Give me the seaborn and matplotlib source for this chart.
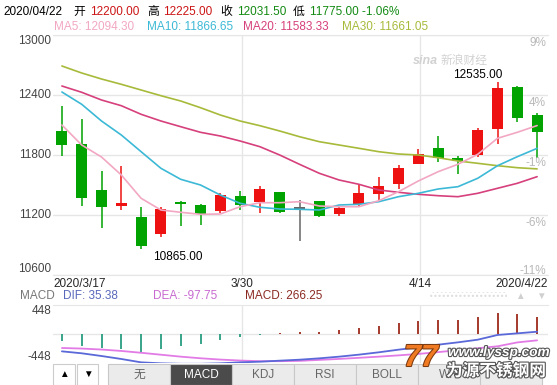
import matplotlib
matplotlib.use("Agg")
import matplotlib.pyplot as plt
import matplotlib.transforms as mtransforms
import matplotlib.patheffects as pe
from matplotlib.patches import Rectangle
import pandas as pd
import seaborn as sns

# Daily K-line, 2020/3/17 .. 2020/4/22 (25 trading days)
opens = [12040, 11910, 11450, 11293, 11183, 11013, 11333, 11300, 11240, 11390,
         11327, 11430, 11270, 11340, 11213, 11313, 11407, 11513, 11710, 11873,
         11770, 11797, 12057, 12477, 12200]
highs = [12290, 12160, 11640, 11693, 11277, 11283, 11340, 11310, 11417, 11443,
         11490, 11433, 11347, 11343, 11293, 11510, 11583, 11697, 11857, 11993,
         11790, 12067, 12535, 12493, 12225]
lows = [11793, 11293, 11073, 11253, 10865, 10983, 11090, 11100, 11217, 11250,
        11223, 11223, 10940, 11183, 11187, 11283, 11327, 11460, 11707, 11727,
        11610, 11777, 11913, 12127, 11775]
closes = [11900, 11373, 11283, 11323, 10893, 11260, 11307, 11207, 11400, 11300,
          11460, 11227, 11270, 11193, 11270, 11420, 11490, 11670, 11810, 11767,
          11743, 12050, 12467, 12167, 12031.5]

# moving averages
ma5 = [12100, 11900, 11780, 11600, 11367, 11250, 11227, 11207, 11210, 11283,
       11323, 11323, 11333, 11290, 11283, 11283, 11343, 11433, 11540, 11633,
       11707, 11807, 11967, 12027, 12094.30]
ma10 = [12430, 12307, 12140, 12000, 11833, 11667, 11557, 11500, 11400, 11317,
        11277, 11260, 11257, 11250, 11300, 11307, 11333, 11383, 11417, 11460,
        11483, 11567, 11693, 11783, 11866.65]
ma20 = [12490, 12427, 12350, 12293, 12207, 12140, 12083, 12027, 11990, 11940,
        11883, 11800, 11707, 11617, 11550, 11507, 11450, 11427, 11407, 11393,
        11383, 11417, 11467, 11517, 11583.33]
ma30 = [12690, 12620, 12560, 12507, 12450, 12393, 12340, 12273, 12200, 12140,
        12093, 12040, 11983, 11933, 11900, 11867, 11833, 11810, 11800, 11773,
        11740, 11717, 11693, 11673, 11661.05]

# MACD panel
macd_hist = [-103, -181, -221, -236, -283, -236, -190, -155, -93, -42,
             -8, 15, 36, 36, 57, 93, 128, 170, 205, 221,
             221, 258, 324, 309, 266.25]
dif = [-268, -298, -340, -386, -438, -453, -460, -460, -453, -438,
       -428, -412, -397, -376, -350, -319, -283, -242, -206, -165,
       -129, -88, -15, 10, 35.38]
dea = [-216, -225, -240, -262, -290, -320, -350, -375, -395, -410,
       -420, -420, -415, -400, -385, -368, -350, -330, -308, -280,
       -250, -220, -190, -130, -97.75]

price_ticks = [13000, 12400, 11800, 11200, 10600]
pct_labels = ['9%', '4%', '-1%', '-6%', '-11%']
date_labels = {0: '2020/3/17', 9: '3/30', 18: '4/14', 24: '2020/4/22'}
tabs = ['无', 'MACD', 'KDJ', 'RSI', 'BOLL', 'WR', 'DMI']

df = pd.DataFrame({'day': range(len(closes)), 'open': opens, 'high': highs,
                   'low': lows, 'close': closes, 'ma5': ma5, 'ma10': ma10,
                   'ma20': ma20, 'ma30': ma30, 'dif': dif, 'dea': dea,
                   'hist': macd_hist})

sns.set_style('white')
plt.rcParams['font.family'] = ['Liberation Sans', 'Noto Sans CJK SC', 'DejaVu Sans']
FS = 8.5
RED, GREEN, GRID = '#ee1111', '#00a300', '#e6e6e6'
MA_COLORS = {'ma5': '#f2a7c3', 'ma10': '#3cb9d6', 'ma20': '#d6407c', 'ma30': '#a8ba3a'}

W, H = 557, 385
fig = plt.figure(figsize=(W / 100, H / 100), dpi=100)


def ptext(x, y, s, **kw):
    kw.setdefault('fontsize', FS)
    kw.setdefault('va', 'center')
    fig.text(x / W, 1 - y / H, s, **kw)


# ---- header lines
ptext(3, 12, '2020/04/22', color='black')
ptext(73, 12, '开', color='black')
ptext(90, 12, '12200.00', color='#cc1414')
ptext(147, 12, '高', color='black')
ptext(163, 12, '12225.00', color='#cc1414')
ptext(220, 12, '收', color='black')
ptext(237, 12, '12031.50', color='#128a12')
ptext(293, 12, '低', color='black')
ptext(310, 12, '11775.00 -1.06%', color='#128a12')

ptext(54, 27, 'MA5: 12094.30', color=MA_COLORS['ma5'])
ptext(147, 27, 'MA10: 11866.65', color=MA_COLORS['ma10'])
ptext(243, 27, 'MA20: 11583.33', color=MA_COLORS['ma20'])
ptext(342, 27, 'MA30: 11661.05', color=MA_COLORS['ma30'])

# ---- main K-line panel
ax = fig.add_axes([53 / W, 1 - 275 / H, 495 / W, 240 / H])
ax.set_xlim(-0.45, len(closes) - 0.45)
ax.set_ylim(10600, 13000)
ax.set_yticks(price_ticks)
ax.set_xticks([9.1, 18.1])
ax.grid(True, color=GRID, lw=1)
ax.tick_params(length=0, labelleft=False, labelbottom=False)
for s in ['left', 'right']:
    ax.spines[s].set_visible(False)
for s in ['top', 'bottom']:
    ax.spines[s].set_color(GRID)

colors = [RED if c > o else (GREEN if c < o else '#666666') for o, c in zip(opens, closes)]
ax.vlines(df['day'], df['low'], df['high'], colors=colors, lw=1.1, zorder=2)
body = [max(abs(c - o), 20) for o, c in zip(opens, closes)]
bottom = [min(o, c) if c != o else o - 10 for o, c in zip(opens, closes)]
ax.bar(df['day'], body, bottom=bottom, width=0.55, color=colors, zorder=2, linewidth=0)

for col in ['ma30', 'ma20', 'ma10', 'ma5']:
    sns.lineplot(data=df, x='day', y=col, ax=ax, color=MA_COLORS[col], lw=1.2, zorder=3)
ax.set_xlabel('')
ax.set_ylabel('')

ylab = mtransforms.blended_transform_factory(ax.transAxes, ax.transData)
for i, (v, p) in enumerate(zip(price_ticks, pct_labels)):
    va = 'bottom' if i == len(price_ticks) - 1 else ('top' if i == 0 else 'center')
    ax.text(-0.004, v, str(v), transform=ylab, ha='right', va=va, fontsize=FS,
            color='#444444')
    pva = 'bottom' if i == len(price_ticks) - 1 else 'top'
    ax.text(0.996, v - 15, p, transform=ylab, ha='right', va=pva, fontsize=FS,
            color='#b8b8b8')

xlab = mtransforms.blended_transform_factory(ax.transData, ax.transAxes)
for d, s in date_labels.items():
    if d == 0:
        ax.text(-0.45, -0.036, s, transform=xlab, ha='left', va='center', fontsize=FS)
    elif d == len(closes) - 1:
        ax.text(len(closes) - 0.45, -0.036, s, transform=xlab, ha='right', va='center', fontsize=FS)
    else:
        ax.text(d + 0.1, -0.036, s, transform=xlab, ha='center', va='center', fontsize=FS)

hi = df['high'].idxmax()
lo = df['low'].idxmin()
ax.text(hi + 0.25, highs[hi] + 65, f'{highs[hi]:.2f}', ha='right', va='center', fontsize=FS, color='black')
ax.text(lo + 0.6, lows[lo] - 82, f'{lows[lo]:.2f}', ha='left', va='center', fontsize=FS, color='black')

# sina watermark
ptext(413, 61, 'sina', color='#d2d2d2', fontsize=9, fontweight='bold', style='italic')
ptext(441, 61, '新浪财经', color='#d2d2d2', fontsize=8.5)

# ---- MACD panel
ptext(20, 296, 'MACD', color='#777777')
ptext(63, 296, 'DIF: 35.38', color='#5a68bb')
ptext(153, 296, 'DEA: -97.75', color='#c86ad0')
ptext(245, 296, 'MACD: 266.25', color='#8b2a22')
fig.add_artist(Rectangle((430 / W, 1 - 299 / H), 77 / W, 7 / H, transform=fig.transFigure,
                         facecolor='none', edgecolor='#dcdcdc', hatch='....', lw=0))
ptext(520, 296, '▲', color='#d0d0d0', fontsize=7, ha='center')
ptext(541, 296, '▼', color='#d0d0d0', fontsize=7, ha='center')

ax2 = fig.add_axes([53 / W, 1 - 363 / H, 495 / W, 58 / H])
ax2.set_xlim(-0.45, len(closes) - 0.45)
ax2.set_ylim(-448, 448)
ax2.set_yticks([0])
ax2.set_xticks([9.1, 18.1])
ax2.grid(True, color=GRID, lw=1)
ax2.tick_params(length=0, labelleft=False, labelbottom=False)
for s in ['left', 'right', 'bottom']:
    ax2.spines[s].set_visible(False)
ax2.spines['top'].set_color(GRID)

hist_colors = ['#9e2a1c' if v > 0 else '#2a9d80' for v in macd_hist]
ax2.vlines(df['day'], 0, df['hist'], colors=hist_colors, lw=1.3, zorder=2)
sns.lineplot(data=df, x='day', y='dea', ax=ax2, color='#e27be6', lw=1.3, zorder=3)
sns.lineplot(data=df, x='day', y='dif', ax=ax2, color='#5a68d8', lw=1.3, zorder=3)
ax2.set_xlabel('')
ax2.set_ylabel('')
ylab2 = mtransforms.blended_transform_factory(ax2.transAxes, ax2.transData)
ax2.text(-0.004, 448, '448', transform=ylab2, ha='right', va='top', fontsize=FS, color='#444444')
ax2.text(-0.004, -448, '-448', transform=ylab2, ha='right', va='bottom', fontsize=FS, color='#444444')

# ---- tab bar
buttons = [(53, 75, '▲'), (77, 98, '▼')]
for x0, x1, s in buttons:
    fig.add_artist(Rectangle((x0 / W, 0), (x1 - x0) / W, 21 / H, transform=fig.transFigure,
                             facecolor='white', edgecolor='#cccccc', lw=0.8))
    ptext((x0 + x1) / 2, 374, s, color='black', fontsize=7, ha='center')
for k, s in enumerate(tabs):
    x0 = 108 + k * 62
    active = s == 'MACD'
    fig.add_artist(Rectangle((x0 / W, 0), 62 / W, 21 / H, transform=fig.transFigure,
                             facecolor='#4b4b4b' if active else '#ebebeb',
                             edgecolor='#c8c8c8', lw=0.8))
    ptext(x0 + 31, 375, s, color='white' if active else '#666666', ha='center', fontsize=FS)

# lyssp watermark
stroke = [pe.withStroke(linewidth=1.6, foreground='#555555')]
ptext(421, 358, '77', color='#f07a22', fontsize=22, fontweight='bold', style='italic',
      ha='center', path_effects=[pe.withStroke(linewidth=1.5, foreground='#7a3a10')])
ptext(448, 352, 'www.lyssp.com', color='white', fontsize=9.8, fontweight='bold',
      style='italic', path_effects=stroke)
ptext(446, 371, '为源不锈钢网', color='white', fontsize=12, fontweight='bold',
      path_effects=stroke)

fig.savefig('out.png', dpi=100)
